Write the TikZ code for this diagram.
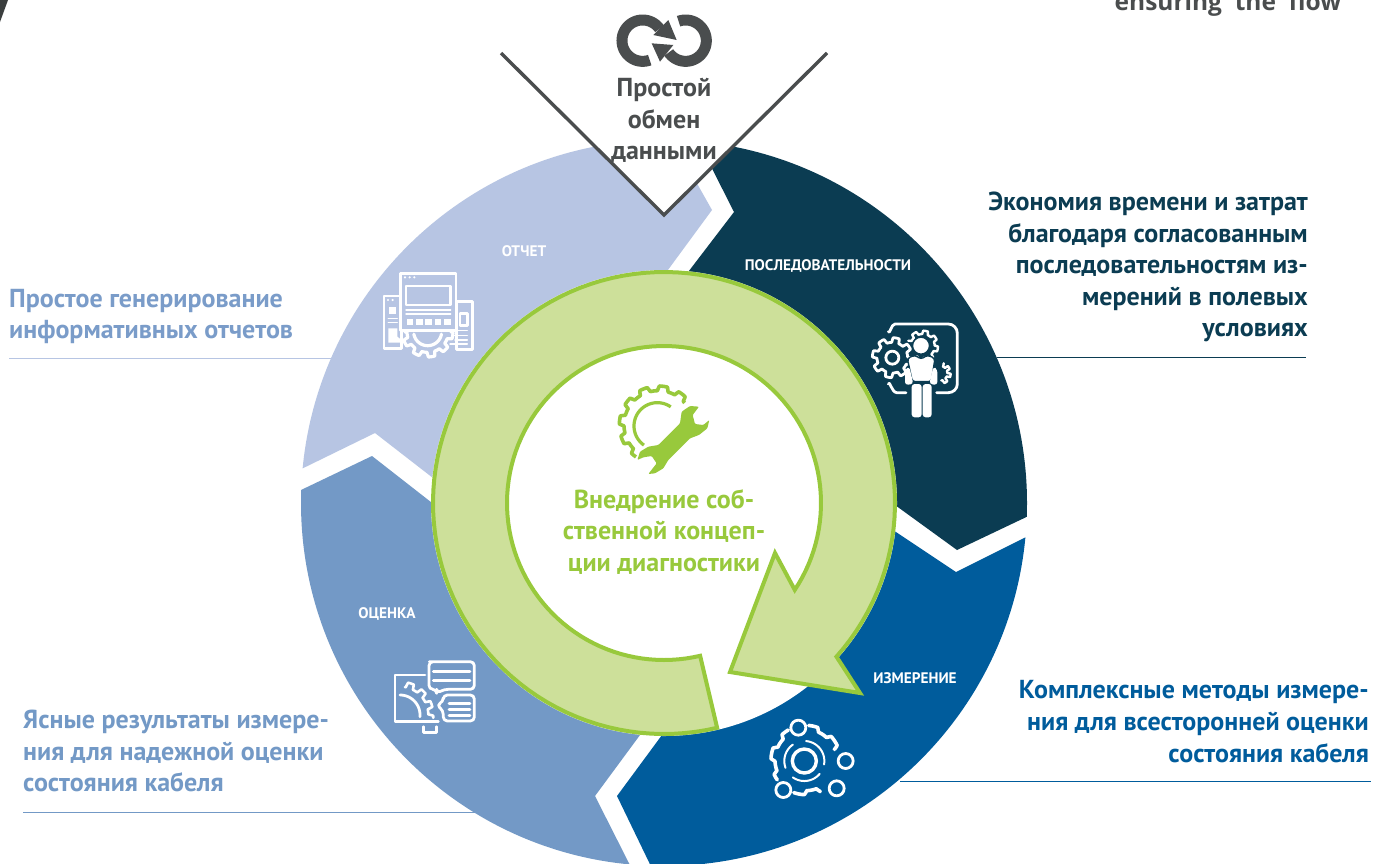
\documentclass[tikz,border=0pt]{standalone}
\usepackage{fontspec}
\setmainfont{PT Sans}
\newfontfamily\topfont{Open Sans}
\definecolor{cReport}{HTML}{B7C5E3}
\definecolor{cSeq}{HTML}{0B3C52}
\definecolor{cMeas}{HTML}{005C9C}
\definecolor{cEval}{HTML}{7399C6}
\definecolor{cGreenL}{HTML}{CDE09A}
\definecolor{cGreen}{HTML}{98C93C}
\definecolor{cGray}{HTML}{4A4D4E}
\definecolor{cLeft}{HTML}{7A9CC9}
\newcommand\gearpath[7]{plot[domain=#6:#7,samples=260,variable=\t]
 ({#1+(#3+(#4-#3)*max(0,min(1,0.5+1.6*sin(#5*\t))))*cos(\t)},{#2+(#3+(#4-#3)*max(0,min(1,0.5+1.6*sin(#5*\t))))*sin(\t)})}
\newcommand\arcpath[5]{plot[domain=#4:#5,samples=70,variable=\t]({#1+#3*cos(\t)},{#2+#3*sin(\t)})}
\tikzset{
 lab/.style={inner sep=0pt,font=\bfseries\fontsize{26}{31.6}\selectfont},
 seglab/.style={inner sep=0pt,text=white,font=\bfseries\fontsize{15.3}{17}\selectfont},
 icon/.style={draw=white,line width=2.8pt,line join=round,line cap=round},
 iconz/.style={x=0.3333pt,y=-0.3333pt},
 rulel/.style={line width=1pt}
}
\begin{document}
\begin{tikzpicture}[x=1pt,y=-1pt]
\clip (0,0) rectangle (1373,863);
\fill[white] (0,0) rectangle (1373,863);
\fill[cGray!80!black] (0,0) -- (8,0) -- (0,22) -- cycle;
\node[inner sep=0pt,anchor=base,text=cGray,font=\topfont\bfseries\fontsize{24.5}{28}\selectfont] (topnote) at (1228,10) {ensuring\ \ the\ \ flow};

% segments
\begin{scope}
 \clip (240,499)--(375,433)--(500,530)--(640,308)--(712,210)--(660,118)--(300,50)--(200,300)--cycle;
 \fill[cReport] (664,503) circle[radius=363pt];
\end{scope}
\begin{scope}
 \clip (690,125)--(734,212)--(640,335)--(664,503)--(833,460)--(957,550)--(1100,482)--(1100,100)--cycle;
 \fill[cSeq] (664,503) circle[radius=363pt];
\end{scope}
\begin{scope}
 \clip (1100,500)--(956,572)--(830,488)--(690,697)--(617,796)--(660,885)--(1100,885)--cycle;
 \fill[cMeas] (664,503) circle[radius=363pt];
\end{scope}
\begin{scope}
 \clip (230,524)--(372,456)--(500,556)--(685,674)--(595,796)--(640,885)--(200,885)--cycle;
 \fill[cEval] (664,503) circle[radius=363pt];
\end{scope}
\fill[white] (664,503) circle[radius=233pt];

% rules
\draw[rulel,cReport] (9,358) -- (333,358);
\draw[rulel,cSeq] (997,357) -- (1306,357);
\draw[rulel,cMeas] (900,781) -- (1371,781);
\draw[rulel,cEval] (23,812) -- (475,812);

% V
\fill[white] (500,52) -- (664,215) -- (828,52) -- cycle;
\draw[cGray,line width=3.4pt] (501,53) -- (664,215) -- (827,53);

% green arrow
\draw[cGreen,fill=cGreenL,line width=4pt,line join=miter]
 plot[domain=76.7:401.7,samples=120,variable=\t]({664+231*cos(\t)},{503+231*sin(\t)}) -- (860,693) -- (730,672) -- (775,553)
 -- plot[domain=393.6:76.7,samples=120,variable=\t]({664+157*cos(\t)},{503+157*sin(\t)}) -- cycle;

% texts
\node[lab,text=cGray,align=center] (share) at (664,120.5) {Простой\\обмен\\данными};
\node[lab,text=cGreen,align=center] (core) at (664,532) {Внедрение соб-\\ственной концеп-\\ции диагностики};
\node[lab,text=cLeft,align=left,anchor=west] (tleft) at (9,316.5) {Простое генерирование\\информативных отчетов};
\node[lab,text=cSeq,align=right,anchor=east] (tseq) at (1308,267) {Экономия времени и затрат\\благодаря согласованным\\последовательностям из-\\мерений в полевых\\условиях};
\node[lab,text=cMeas,align=right,anchor=east] (tmeas) at (1369,721.5) {Комплексные методы измере-\\ния для всесторонней оценки\\состояния кабеля};
\node[lab,text=cEval,align=left,anchor=west] (teval) at (23,751) {Ясные результаты измере-\\ния для надежной оценки\\состояния кабеля};
\node[seglab] (lreport) at (524,251) {ОТЧЕТ};
\node[seglab] (lseq) at (828,266) {ПОСЛЕДОВАТЕЛЬНОСТИ};
\node[seglab] (leval) at (387,614) {ОЦЕНКА};
\node[seglab] (lmeas) at (915,678) {ИЗМЕРЕНИЕ};

% icon: loop arrows
\begin{scope}[shift={(480,0)},iconz]
 \draw[cGray,line width=11pt] \arcpath{488}{122}{62}{70}{325};
 \draw[cGray,line width=11pt] \arcpath{617}{122}{62}{250}{505};
 \fill[cGray] (565,60) -- (590,120) -- (520,105) -- cycle;
 \fill[cGray] (515,130) -- (580,135) -- (540,185) -- cycle;
\end{scope}

% icon: report
\begin{scope}[shift={(360,260)},iconz]
 \draw[icon] (72,108) rectangle (125,265);
 \draw[icon] (290,125) rectangle (338,268);
 \draw[icon,line width=3.2pt] \gearpath{203}{215}{62}{76}{10}{0}{180};
 \draw[icon,line width=3.2pt] \arcpath{203}{215}{42}{10}{170};
 \fill[cReport] (122,40) rectangle (288,212);
 \draw[icon] (122,40) rectangle (288,212);
 \draw[icon,fill=cReport] (138,78) rectangle (272,135);
 \draw[icon,line width=1.5pt] (138,150) -- (272,150) (138,162) -- (272,162);
 \foreach \q in {140,168,196,224,252} \fill[white] (\q,178) rectangle +(20,18);
 \foreach \q in {135,149,163} \fill[white] (\q,52) circle[radius=1.2pt];
 \foreach \q in {84,98} \fill[white] (\q,120) circle[radius=1.2pt];
 \fill[white] (87,140) rectangle (107,162);
 \draw[icon,line width=1.4pt] (85,175) -- (112,175) (85,188) -- (112,188);
 \fill[white] (85,205) -- (112,205) -- (112,230) -- (135,248) -- (85,248) -- cycle;
 \draw[icon] (300,160) rectangle (322,197);
 \draw[icon,line width=1.4pt] (295,212) -- (322,212) (280,226) -- (322,226) (285,240) -- (322,240) (270,252) -- (322,252);
\end{scope}

% icon: person
\begin{scope}[shift={(850,310)},iconz]
 \draw[icon] (115,65) to[out=-70,in=180] (135,42) -- (295,42) to[out=0,in=90] (322,70) -- (322,222) to[out=-90,in=0] (295,248) -- (260,248);
 \draw[icon] (115,222) to[out=80,in=180] (140,248) -- (168,248);
 \draw[icon,line width=2.4pt] \gearpath{218}{108}{36}{46}{8}{200}{480};
 \draw[icon,line width=2.4pt] \gearpath{270}{190}{22}{32}{8}{-70}{80};
 \fill[cSeq] (127,143) circle[radius=17pt];
 \draw[icon,line width=2.8pt] \gearpath{127}{143}{46}{60}{8}{0}{360};
 \draw[icon,line width=2.8pt] (127,143) circle[radius=6.5pt];
 \fill[white,draw=cSeq,line width=1.4pt] (213,107) circle[radius=8.5pt];
 \fill[white,draw=cSeq,line width=1.4pt,rounded corners=3pt] (172,145) -- (195,135) -- (213,148) -- (232,135) -- (255,145) -- (244,215) -- (187,215) -- cycle;
 \fill[white,rounded corners=3pt] (165,178) -- (178,170) -- (190,222) -- (165,225) -- cycle;
 \fill[white,rounded corners=3pt] (262,178) -- (250,170) -- (238,222) -- (262,225) -- cycle;
 \fill[white,rounded corners=3pt] (185,222) rectangle (215,322);
 \fill[white,rounded corners=3pt] (218,222) rectangle (245,322);
\end{scope}

% icon: wrench
\begin{scope}[shift={(600,370)},iconz]
 \draw[cGreen,line width=3.6pt,line join=round] \gearpath{175}{165}{103}{117}{12}{125}{320};
 \draw[cGreen,line width=3.2pt] \arcpath{172}{168}{70}{125}{305};
 \fill[cGreen,rounded corners=1pt] (245,125)--(270,108)--(297,110)--(278,135)--(285,162)--(310,165)--(328,150)--(322,175)--(297,195)--(270,205)--(205,270)--(190,295)--(165,310)--(145,312)--(170,280)--(155,258)--(130,262)--(112,270)--(120,245)--(145,230)--(175,225)--(240,160)--cycle;
\end{scope}

% icon: evaluation
\begin{scope}[shift={(375,650)},iconz]
 \draw[icon] (150,75) -- (60,75) -- (60,215) -- (190,215);
 \draw[icon] (145,230) -- (145,247) -- (185,247) -- (185,230);
 \draw[icon] \arcpath{75}{195}{60}{-90}{5};
 \draw[icon,line width=2.6pt] \gearpath{75}{195}{85}{100}{14}{-80}{5};
 \draw[icon,fill=cEval,rounded corners=4pt] (175,35) -- (298,35) -- (298,118) -- (207,118) -- (185,130) -- (185,118) -- (162,118) -- (162,35) -- cycle;
 \draw[icon] (175,65) -- (285,65) (175,92) -- (285,92);
 \draw[icon,fill=cEval,rounded corners=4pt] (205,135) -- (298,135) -- (298,213) -- (205,213) -- (205,182) -- (185,165) -- (205,155) -- cycle;
 \draw[icon] (222,160) -- (285,160) (222,178) -- (285,178) (222,197) -- (285,197);
\end{scope}

% icon: measurement
\begin{scope}[shift={(755,705)},iconz]
 \draw[icon,line width=3.4pt] (148,168) circle[radius=12pt];
 \draw[icon,line width=2pt] \arcpath{148}{168}{60}{-85}{10};
 \draw[icon,line width=2pt] \arcpath{148}{168}{60}{40}{125};
 \draw[icon,line width=2pt] \arcpath{148}{168}{60}{160}{235};
 \draw[icon,line width=3.6pt] \gearpath{152}{165}{92}{104}{8}{-85}{-20};
 \draw[icon,line width=3.6pt] \gearpath{152}{165}{92}{104}{8}{65}{110};
 \draw[icon,line width=3.6pt] \gearpath{152}{165}{92}{104}{8}{145}{240};
 \foreach \cx/\cy in {130/68,272/168,245/250,85/255} \draw[icon] (\cx,\cy) circle[radius=7.5pt];
\end{scope}
\end{tikzpicture}
\end{document}
